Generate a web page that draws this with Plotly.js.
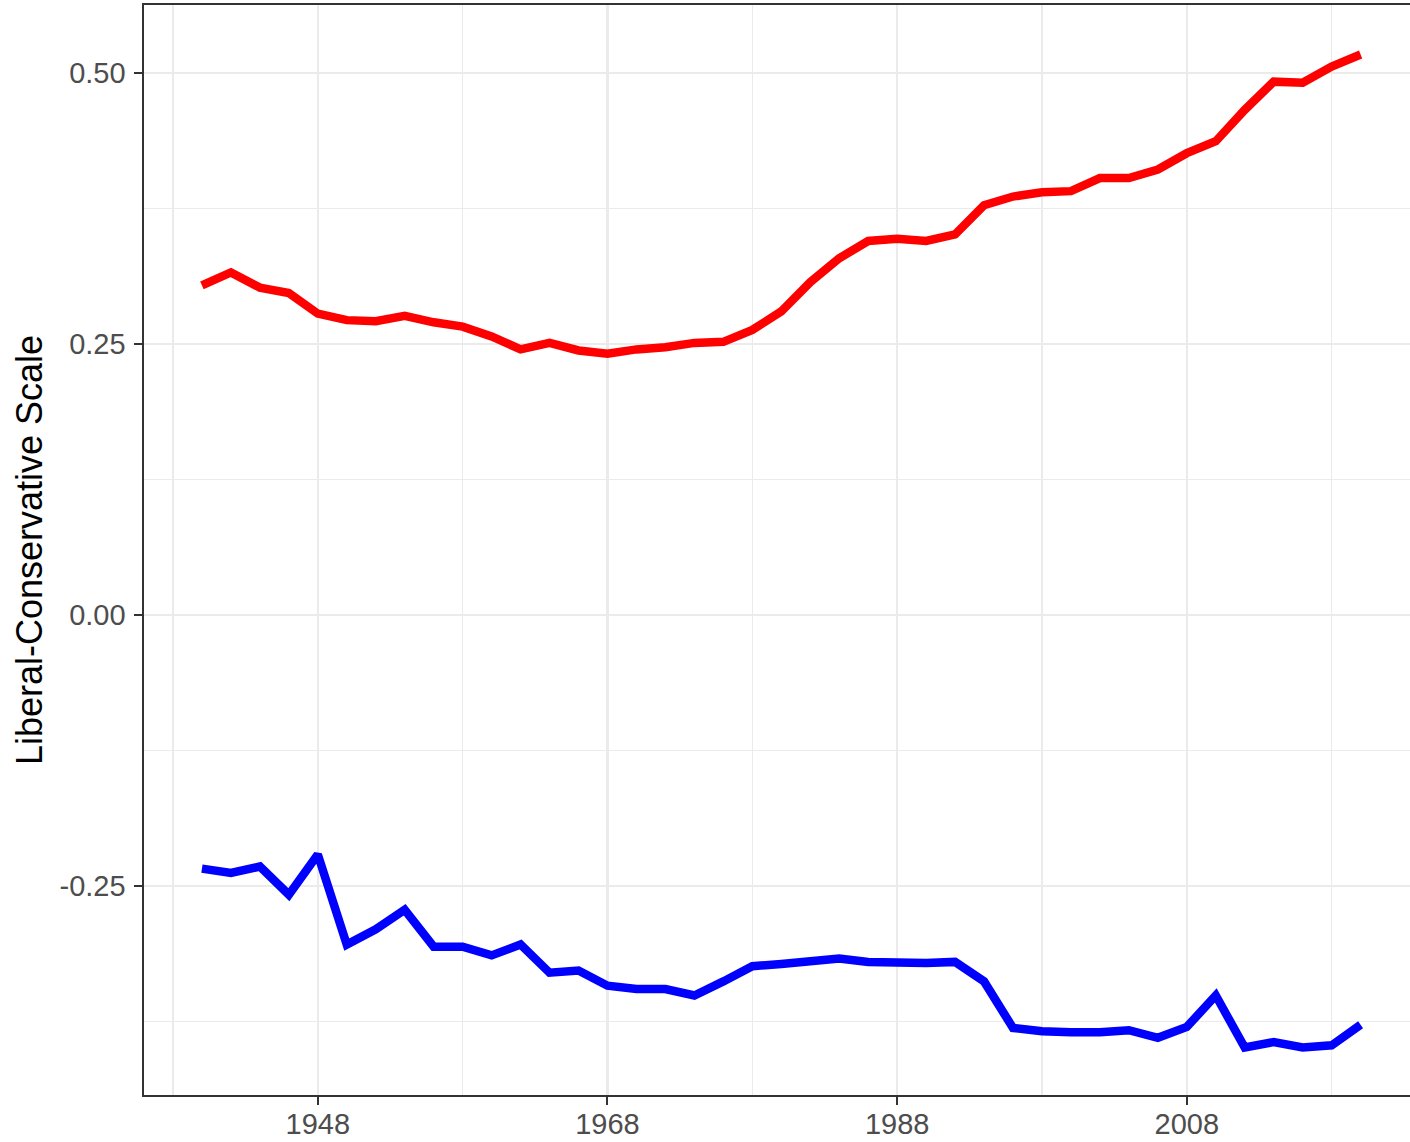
<!DOCTYPE html>
<html>
<head>
<meta charset="utf-8">
<script src="https://cdn.plot.ly/plotly-3.0.1.min.js"></script>
<style>
html, body { margin: 0; padding: 0; background: #ffffff; }
#chart { width: 1410px; height: 1142px; }
</style>
</head>
<body>
<div id="chart"></div>
<script>
// Congress start years (every two years)
const years = [1940,1942,1944,1946,1948,1950,1952,1954,1956,1958,1960,1962,1964,1966,1968,1970,1972,1974,1976,1978,1980,1982,1984,1986,1988,1990,1992,1994,1996,1998,2000,2002,2004,2006,2008,2010,2012,2014,2016,2018,2020];

// Republican mean (red)
const republican = [0.304,0.316,0.302,0.297,0.278,0.272,0.271,0.276,0.270,0.266,0.257,0.245,0.251,0.244,0.241,0.245,0.247,0.251,0.252,0.263,0.280,0.307,0.329,0.345,0.347,0.345,0.351,0.378,0.386,0.390,0.391,0.403,0.403,0.411,0.426,0.437,0.466,0.492,0.491,0.506,0.517];

// Democratic mean (blue)
const democrat = [-0.234,-0.238,-0.232,-0.258,-0.221,-0.304,-0.290,-0.272,-0.306,-0.306,-0.314,-0.304,-0.330,-0.328,-0.342,-0.345,-0.345,-0.351,-0.338,-0.324,-0.322,-0.320,-0.317,-0.320,-0.321,-0.321,-0.320,-0.338,-0.381,-0.384,-0.385,-0.385,-0.383,-0.390,-0.380,-0.351,-0.399,-0.394,-0.399,-0.397,-0.378];

const xTickVals = [1948, 1968, 1988, 2008];
const xTickText = ['1948', '1968', '1988', '2008'];
const xMinorVals = [1938, 1958, 1978, 1998, 2018];
const yTickVals = [-0.25, 0, 0.25, 0.5];
const yTickText = ['-0.25', '0.00', '0.25', '0.50'];
const yMinorVals = [-0.375, -0.125, 0.125, 0.375];
const yTitle = 'Liberal-Conservative Scale';

const traces = [
  { x: years, y: republican, type: 'scatter', mode: 'lines',
    line: { color: '#FF0000', width: 8.5 }, hoverinfo: 'skip', showlegend: false },
  { x: years, y: democrat, type: 'scatter', mode: 'lines',
    line: { color: '#0000FF', width: 8.5 }, hoverinfo: 'skip', showlegend: false }
];

const gridColor = '#EBEBEB';
const axisColor = '#333333';

const layout = {
  width: 1410, height: 1142,
  margin: { l: 144, r: 0, t: 5, b: 47, pad: 0 },
  paper_bgcolor: '#ffffff', plot_bgcolor: '#ffffff',
  font: { family: 'Liberation Sans, Arial, sans-serif', color: '#4D4D4D' },
  xaxis: {
    range: [1936, 2023.41],
    tickmode: 'array', tickvals: xTickVals, ticktext: xTickText,
    ticks: 'outside', ticklen: 8, tickwidth: 2, tickcolor: axisColor,
    tickfont: { size: 29, color: '#4D4D4D' },
    ticklabelstandoff: -5,
    showgrid: true, gridcolor: gridColor, gridwidth: 2.2,
    minor: { tickmode: 'array', tickvals: xMinorVals, showgrid: true, gridcolor: gridColor, gridwidth: 1.2, ticks: '' },
    showline: true, linecolor: axisColor, linewidth: 1.6, mirror: true,
    zeroline: false, fixedrange: true
  },
  yaxis: {
    range: [-0.4428, 0.5627],
    tickmode: 'array', tickvals: yTickVals, ticktext: yTickText,
    ticks: 'outside', ticklen: 8, tickwidth: 2, tickcolor: axisColor,
    tickfont: { size: 29, color: '#4D4D4D' },
    ticklabelstandoff: 3,
    showgrid: true, gridcolor: gridColor, gridwidth: 2.2,
    minor: { tickmode: 'array', tickvals: yMinorVals, showgrid: true, gridcolor: gridColor, gridwidth: 1.2, ticks: '' },
    showline: true, linecolor: axisColor, linewidth: 1.6, mirror: false,
    zeroline: false, fixedrange: true,
    title: { text: yTitle, font: { size: 36, color: '#000000' }, standoff: 6 }
  }
};

Plotly.newPlot('chart', traces, layout, { staticPlot: true, displayModeBar: false });
</script>
</body>
</html>
